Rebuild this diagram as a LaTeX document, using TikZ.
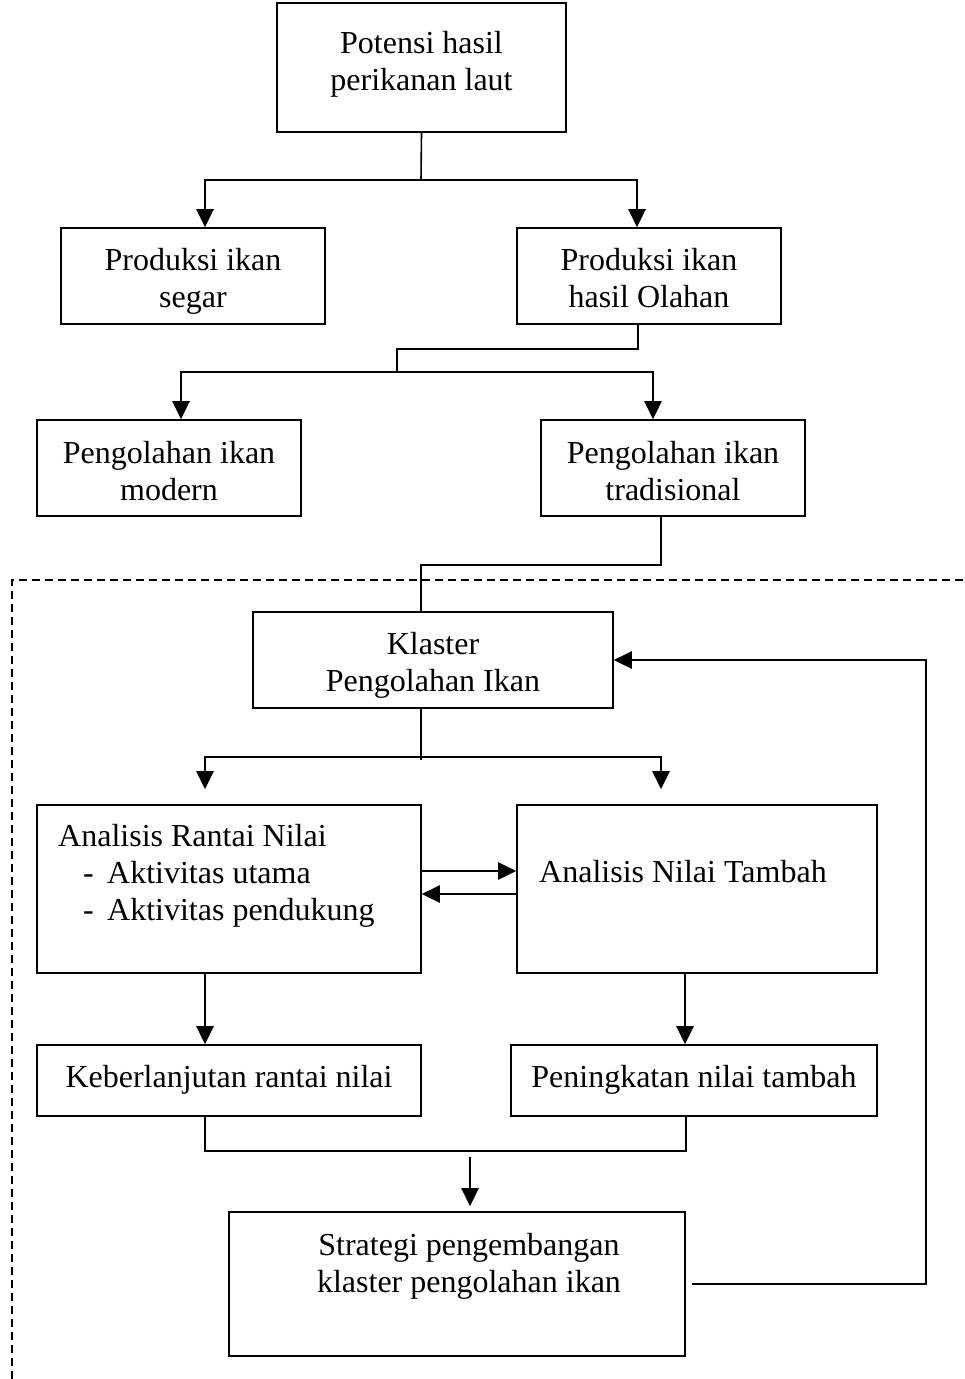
\documentclass[tikz,border=0pt]{standalone}
\usepackage{fontspec}
\setmainfont{Liberation Serif}
\usetikzlibrary{arrows.meta}
\newcommand{\bigfs}{\fontsize{32}{37}\selectfont}
\begin{document}
\begin{tikzpicture}[x=1pt,y=-1pt,
  box/.style={draw, line width=1.6pt, rectangle, inner sep=0pt},
  txt/.style={inner sep=0pt, font=\bigfs, anchor=base, align=center},
  conn/.style={line width=1.6pt},
  arr/.style={line width=2.6pt, -{Triangle[length=18pt,width=17pt]}},
  frame/.style={line width=1.6pt, dash pattern=on 8pt off 5pt}]
\useasboundingbox (0,0) rectangle (965,1379);

% boxes
\node[box, minimum width=289pt, minimum height=129pt] (b1) at (421.5,67.5) {};
\node[box, minimum width=264pt, minimum height=96pt] (b2) at (193,276) {};
\node[box, minimum width=264pt, minimum height=96pt] (b3) at (649,276) {};
\node[box, minimum width=264pt, minimum height=96pt] (b4) at (169,468) {};
\node[box, minimum width=264pt, minimum height=96pt] (b5) at (673,468) {};
\node[box, minimum width=360pt, minimum height=96pt] (b6) at (433,660) {};
\node[box, minimum width=384pt, minimum height=168pt] (b7) at (229,889) {};
\node[box, minimum width=360pt, minimum height=168pt] (b8) at (697,889) {};
\node[box, minimum width=384pt, minimum height=71pt] (b9) at (229,1080.5) {};
\node[box, minimum width=366pt, minimum height=71pt] (b10) at (694,1080.5) {};
\node[box, minimum width=456pt, minimum height=144pt] (b11) at (457,1284) {};

% texts (anchored at the baseline of the last line)
\node[txt] (t1) at (421.5,90) {Potensi hasil\\perikanan laut};
\node[txt] (t2) at (193,307) {Produksi ikan\\segar};
\node[txt] (t3) at (649,307) {Produksi ikan\\hasil Olahan};
\node[txt] (t4) at (169,500) {Pengolahan ikan\\modern};
\node[txt] (t5) at (673,500) {Pengolahan ikan\\tradisional};
\node[txt] (t6) at (433,691) {Klaster\\Pengolahan Ikan};
\node[txt, anchor=base west, align=left] (t7) at (58,920)
  {Analisis Rantai Nilai\\\hspace*{25pt}\makebox[24pt][l]{-}Aktivitas utama\\\hspace*{25pt}\makebox[24pt][l]{-}Aktivitas pendukung};
\node[txt, anchor=base west] (t8) at (539,882) {Analisis Nilai Tambah};
\node[txt] (t9) at (229,1087) {Keberlanjutan rantai nilai};
\node[txt] (t10) at (694,1087) {Peningkatan nilai tambah};
\node[txt] (t11) at (469,1292) {Strategi pengembangan\\klaster pengolahan ikan};

% dashed frame
\coordinate (f1) at (12,1379);
\coordinate (f2) at (12,580);
\coordinate (f3) at (965,580);
\draw[frame] (f1) -- (f2) -- (f3);

% top split
\coordinate (j1) at (421,180);
\draw[conn] (b1.south) -- (j1);
\draw[conn] (204,180) -- (637,180);
\draw[arr] (j1) -| ([xshift=12pt]b2.north);
\draw[arr] (j1) -| ([xshift=-12pt]b3.north);

% second split
\coordinate (j2) at (397,372);
\draw[conn] ([xshift=-11pt]b3.south) -- ++(0,24) -| (j2);
\draw[conn] (181,372) -- (653,372);
\draw[arr] (j2) -| ([xshift=12pt]b4.north);
\draw[arr] (j2) -| ([xshift=-20pt]b5.north);

% tradisional to klaster
\draw[conn] ([xshift=-12pt]b5.south) -- ++(0,48) -| ([xshift=-12pt]b6.north);

% klaster split
\coordinate (j3) at (421,757);
\draw[conn] ([xshift=-12pt]b6.south) -- ++(0,51);
\draw[conn] (205,757) -- (661,757);
\draw[arr] (j3) -| ([xshift=-24pt,yshift=15pt]b7.north);
\draw[arr] (j3) -| ([xshift=-36pt,yshift=15pt]b8.north);

% between analyses
\draw[arr] ([yshift=18pt]b7.east) -- ([yshift=18pt]b8.west);
\draw[arr] ([yshift=-5pt]b8.west) -- ([yshift=-5pt]b7.east);

% down to outcomes
\draw[arr] ([xshift=-24pt]b7.south) -- ([xshift=-24pt]b9.north);
\draw[arr] ([xshift=-12pt]b8.south) -- ([xshift=-12pt]b8.south |- b10.north);

% join
\draw[conn] ([xshift=-24pt]b9.south) -- ++(0,34) -| ([xshift=-8pt]b10.south);
\coordinate (j4) at (470,1157);
\draw[arr] (j4) -- ([xshift=13pt,yshift=5pt]b11.north);

% feedback
\draw[arr] ([xshift=6pt]b11.east) -- ++(234,0) |- (b6.east);
\end{tikzpicture}
\end{document}
